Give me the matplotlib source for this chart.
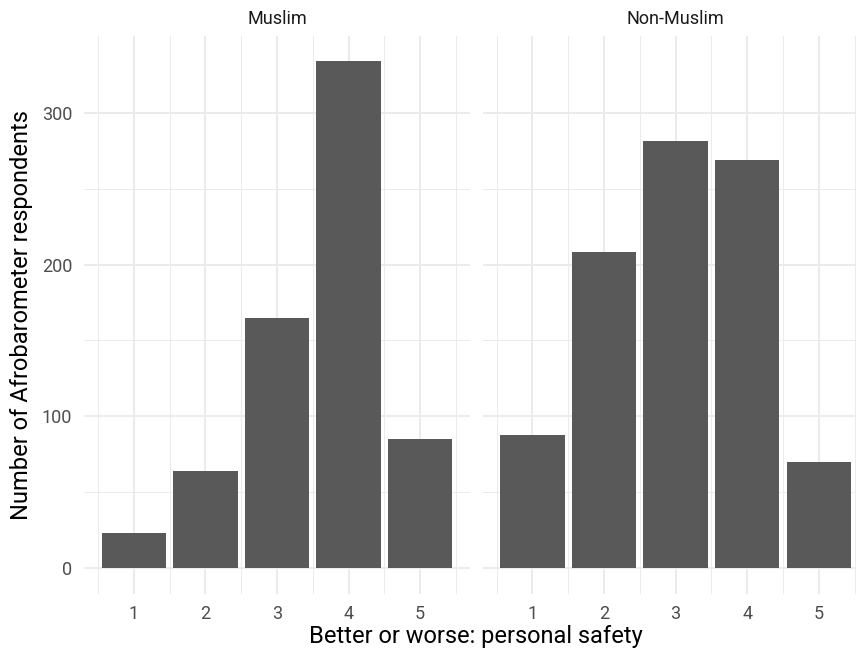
import numpy as np
import matplotlib.pyplot as plt

plt.rcParams['font.family'] = ['Roboto', 'DejaVu Sans']

# data
categories = [1, 2, 3, 4, 5]
panels = ['Muslim', 'Non-Muslim']
muslim = [23, 64, 165, 334, 85]
non_muslim = [88, 208, 281, 269, 70]
yticks = [0, 100, 200, 300]

W, H = 856, 655
fig = plt.figure(figsize=(W / 100, H / 100), dpi=100)

ymax = max(max(muslim), max(non_muslim))
ylim = (-0.05 * ymax, 1.05 * ymax)
xlim = (0.55 - 0.245, 5.45 + 0.245)

top_px, bot_px = 35.6, 593.7
panel_px = [(84, 386), (482.6, 386)]

axes = []
for i, (name, vals) in enumerate(zip(panels, [muslim, non_muslim])):
    x0, w = panel_px[i]
    ax = fig.add_axes([x0 / W, (H - bot_px) / H, w / W, (bot_px - top_px) / H])
    ax.bar(categories, vals, width=0.9, color='#595959', zorder=3)
    ax.set_xlim(*xlim)
    ax.set_ylim(*ylim)
    ax.set_xticks(categories)
    ax.set_xticks([c - 0.5 for c in categories] + [5.5], minor=True)
    ax.set_yticks(yticks)
    ax.set_yticks([50, 150, 250], minor=True)
    ax.grid(which='major', color='#EBEBEB', linewidth=1.4, zorder=0)
    ax.grid(which='minor', color='#EBEBEB', linewidth=0.7, zorder=0)
    for s in ax.spines.values():
        s.set_visible(False)
    ax.tick_params(which='both', length=0, labelsize=13, labelcolor='#4D4D4D')
    ax.tick_params(axis='x', pad=8)
    ax.tick_params(axis='y', pad=8.6)
    if i == 1:
        ax.tick_params(axis='y', labelleft=False)
    ax.set_title(name, fontsize=13, color='#1A1A1A', pad=8)
    axes.append(ax)

fig.text(476 / W, 1 - 636 / H, 'Better or worse: personal safety',
         ha='center', va='center', fontsize=17)
fig.text(22 / W, 1 - 315 / H, 'Number of Afrobarometer respondents',
         ha='center', va='center', rotation=90, fontsize=17)

fig.savefig('out.png', dpi=100, facecolor='white')
